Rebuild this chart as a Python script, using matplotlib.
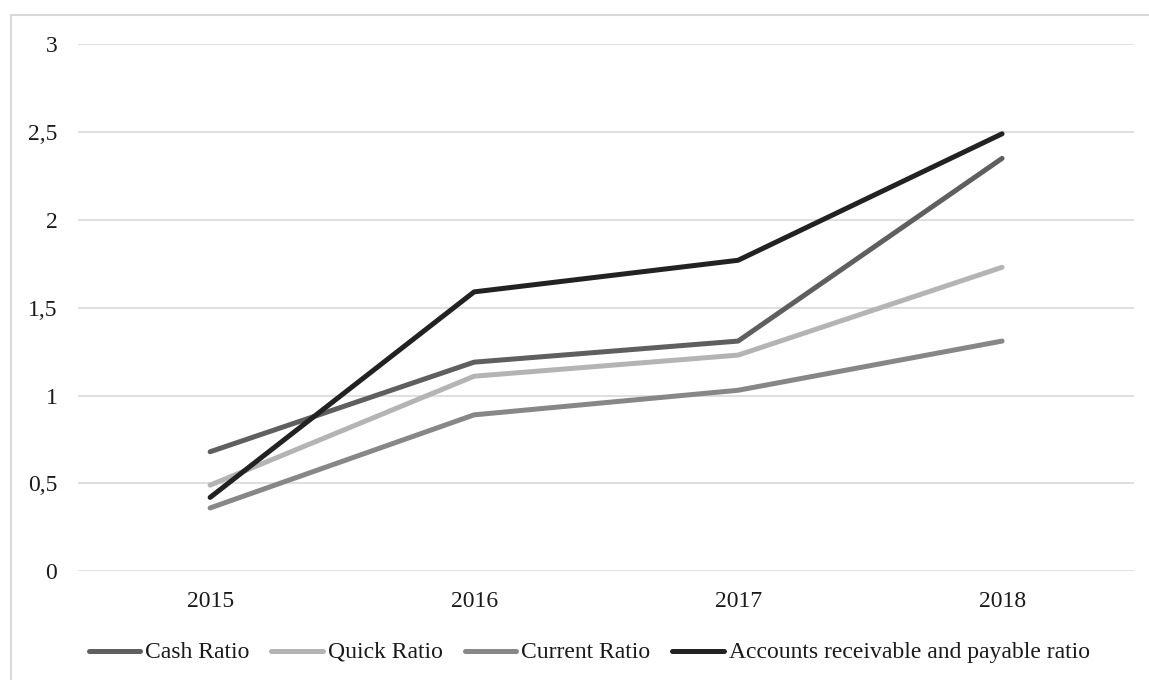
import matplotlib.pyplot as plt
from matplotlib.patches import Rectangle
from matplotlib.lines import Line2D
from matplotlib.offsetbox import AnchoredOffsetbox, DrawingArea, HPacker, TextArea
from matplotlib.ticker import FuncFormatter

plt.rcParams['font.family'] = ['Liberation Serif', 'DejaVu Serif']

years = ['2015', '2016', '2017', '2018']
cash_ratio = [0.68, 1.19, 1.31, 2.35]
quick_ratio = [0.49, 1.11, 1.23, 1.73]
current_ratio = [0.36, 0.89, 1.03, 1.31]
ar_ap_ratio = [0.42, 1.59, 1.77, 2.49]

series = [
    ('Cash Ratio', cash_ratio, '#5f5f5f'),
    ('Quick Ratio', quick_ratio, '#b4b4b4'),
    ('Current Ratio', current_ratio, '#878787'),
    ('Accounts receivable and payable ratio', ar_ap_ratio, '#222222'),
]

fig = plt.figure(figsize=(11.49, 6.8), dpi=100)
ax = fig.add_axes([0.068, 0.160, 0.919, 0.775])

x = range(len(years))
for name, vals, col in series:
    ax.plot(x, vals, color=col, lw=3.6, solid_capstyle='round', label=name, zorder=3)

ax.set_xlim(-0.5, len(years) - 0.5)
ax.set_ylim(0, 3)
ax.set_yticks([0, 0.5, 1, 1.5, 2, 2.5, 3])
ax.yaxis.set_major_formatter(FuncFormatter(lambda v, p: f'{v:g}'.replace('.', ',')))
ax.set_xticks(list(x))
ax.set_xticklabels(years)
ax.grid(axis='y', color='#d9d9d9', lw=1.2)
ax.set_axisbelow(True)
for s in ax.spines.values():
    s.set_visible(False)
ax.tick_params(length=0, labelsize=17, colors='#1a1a1a')
ax.tick_params(axis='y', pad=15)
ax.tick_params(axis='x', pad=14)

# legend row built by hand so all labels share one baseline
items = []
for name, vals, col in series:
    da = DrawingArea(40, 12, 0, 0)
    da.add_artist(Line2D([1.6, 38.4], [5.2, 5.2], color=col, lw=3.6, solid_capstyle='round'))
    txt = TextArea(name, textprops=dict(fontsize=17, color='#1a1a1a'))
    items.append(HPacker(children=[da, txt], align='baseline', pad=0, sep=2))
row = HPacker(children=items, align='baseline', pad=0, sep=14.5)
leg = AnchoredOffsetbox(loc='center', child=row, frameon=False, borderpad=0,
                        bbox_to_anchor=(0.5117, 0.041), bbox_transform=fig.transFigure)
fig.add_artist(leg)

# outer chart border (right and bottom edges fall outside the image)
fig.patches.append(Rectangle((10.5 / 1149, -20 / 680), 1200 / 1149, 685.5 / 680,
                             transform=fig.transFigure, fill=False,
                             edgecolor='#d9d9d9', lw=1.5))

fig.savefig('out.png', dpi=100)
